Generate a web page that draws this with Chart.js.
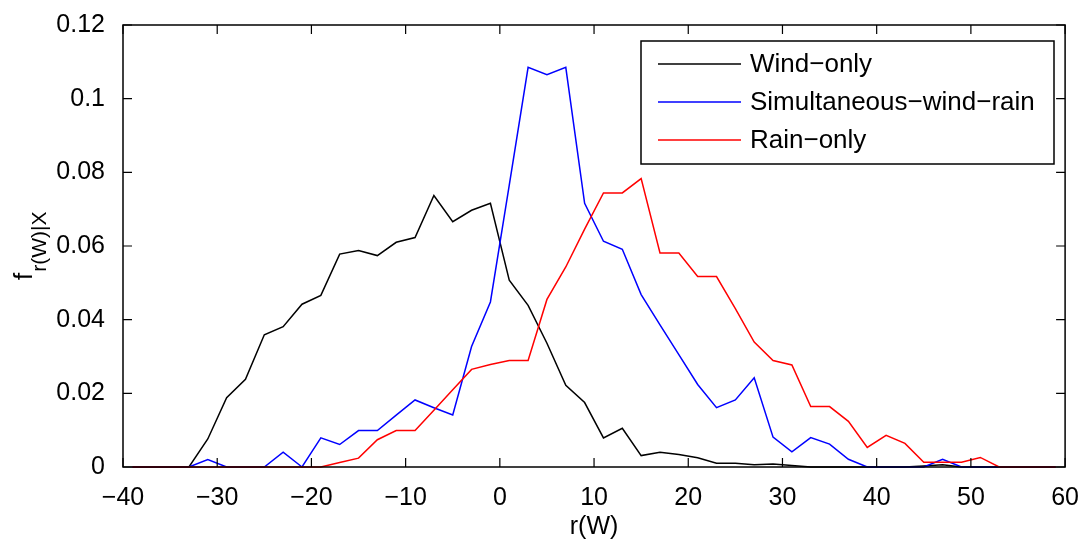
<!DOCTYPE html>
<html>
<head>
<meta charset="utf-8">
<script src="https://cdn.jsdelivr.net/npm/chart.js@4.4.1/dist/chart.umd.min.js"></script>
<style>
  html, body { margin: 0; padding: 0; background: #fff; }
  #wrap { width: 1087px; height: 542px; }
</style>
</head>
<body>
<div id="wrap"><canvas id="myChart" width="1087" height="542"></canvas></div>
<script>
// bin centres r(W)
const rW = [-39,-37,-35,-33,-31,-29,-27,-25,-23,-21,-19,-17,-15,-13,-11,-9,-7,-5,-3,-1,
            1,3,5,7,9,11,13,15,17,19,21,23,25,27,29,31,33,35,37,39,41,43,45,47,49,51,53,55,57,59];

const windOnly = [0,0,0,0,0.0076,0.0188,0.0238,0.0359,0.0381,0.0442,0.0466,0.0578,0.0588,0.0574,0.0610,0.0623,0.0737,0.0666,0.0697,0.0716,
                  0.0507,0.0439,0.0336,0.0222,0.0175,0.0079,0.0105,0.0031,0.0040,0.0034,0.0025,0.0010,0.0010,0.0006,0.0008,0.0004,0,0,0,0,0,0,0.0003,0.0006,0,0,0,0,0,0];

const simultaneous = [0,0,0,0,0.0020,0,0,0,0.0040,0,0.0079,0.0061,0.0099,0.0099,0.0141,0.0182,0.0161,0.0141,0.0327,0.0448,
                      0.0765,0.1085,0.1065,0.1085,0.0716,0.0613,0.0591,0.0468,0.0386,0.0305,0.0224,0.0161,0.0182,0.0242,0.0081,0.0041,0.0080,0.0062,0.0021,0,0,0,0,0.0021,0,0,0,0,0,0];

const rainOnly = [0,0,0,0,0,0,0,0,0,0,0,0.0012,0.0024,0.0074,0.0099,0.0099,0.0154,0.0210,0.0265,0.0278,
                  0.0289,0.0289,0.0455,0.0543,0.0646,0.0744,0.0744,0.0783,0.0581,0.0581,0.0517,0.0517,0.0430,0.0339,0.0289,0.0277,0.0164,0.0164,0.0124,0.0053,0.0086,0.0064,0.0013,0.0013,0.0013,0.0026,0,0,0,0];

const seriesNames = ['Wind\u2212only', 'Simultaneous\u2212wind\u2212rain', 'Rain\u2212only'];
const xTicks = [-40,-30,-20,-10,0,10,20,30,40,50,60];
const yTicks = [0,0.02,0.04,0.06,0.08,0.1,0.12];

const FONT = 'Liberation Sans, Arial, Helvetica, sans-serif';

const toPoints = (vals) => rW.map((x, i) => ({x: x, y: vals[i]}));

// box round the plot plus inward ticks on all four sides
const frameTicks = {
  id: 'frameTicks',
  afterDatasetsDraw(chart) {
    const {ctx, chartArea: a, scales} = chart;
    ctx.save();
    ctx.strokeStyle = '#000';
    ctx.lineWidth = 1.5;
    ctx.strokeRect(a.left, a.top, a.right - a.left, a.bottom - a.top);
    ctx.lineWidth = 1.2;
    ctx.beginPath();
    xTicks.forEach(v => {
      const px = scales.x.getPixelForValue(v);
      ctx.moveTo(px, a.bottom); ctx.lineTo(px, a.bottom - 9);
      ctx.moveTo(px, a.top); ctx.lineTo(px, a.top + 9);
    });
    yTicks.forEach(v => {
      const py = scales.y.getPixelForValue(v);
      ctx.moveTo(a.left, py); ctx.lineTo(a.left + 9, py);
      ctx.moveTo(a.right, py); ctx.lineTo(a.right - 9, py);
    });
    ctx.stroke();
    ctx.restore();
  },
  afterDraw(chart) {
    const {ctx} = chart;
    // y axis title f_{r(W)|X}
    ctx.save();
    ctx.fillStyle = '#000';
    ctx.translate(32, 280);
    ctx.rotate(-Math.PI / 2);
    ctx.textBaseline = 'alphabetic';
    ctx.textAlign = 'left';
    ctx.font = '26px ' + FONT;
    ctx.fillText('f', 0, 0);
    const fw = ctx.measureText('f').width;
    ctx.font = '21px ' + FONT;
    ctx.fillText('r(W)|X', fw + 1, 14);
    ctx.restore();

    // legend box
    const bx = 641, by = 41, bw = 413, bh = 123;
    ctx.save();
    ctx.fillStyle = '#fff';
    ctx.fillRect(bx, by, bw, bh);
    ctx.strokeStyle = '#000';
    ctx.lineWidth = 1.5;
    ctx.strokeRect(bx, by, bw, bh);
    const rows = [64, 102, 140];
    chart.data.datasets.forEach((ds, i) => {
      ctx.strokeStyle = ds.borderColor;
      ctx.lineWidth = 1.5;
      ctx.beginPath();
      ctx.moveTo(658, rows[i]); ctx.lineTo(741, rows[i]);
      ctx.stroke();
      ctx.fillStyle = '#000';
      ctx.font = '26px ' + FONT;
      ctx.textBaseline = 'middle';
      ctx.fillText(ds.label, 750, rows[i] + 1);
    });
    ctx.restore();
  }
};

const convasGraphic = () => {
  let ctx = document.getElementById('myChart').getContext('2d');
  const data = {
    datasets: [
      { label: seriesNames[0], data: toPoints(windOnly), borderColor: '#000000', order: 2 },
      { label: seriesNames[1], data: toPoints(simultaneous), borderColor: '#0000ff', order: 1 },
      { label: seriesNames[2], data: toPoints(rainOnly), borderColor: '#ff0000', order: 0 }
    ]
  };
  data.datasets.forEach(ds => {
    ds.borderWidth = 1.5;
    ds.pointRadius = 0;
    ds.tension = 0;
    ds.fill = false;
    ds.clip = 3;
  });
  let myChart = new Chart(ctx, {
    type: 'line',
    data: data,
    options: {
      responsive: false,
      animation: false,
      events: [],
      layout: { padding: { left: 0, right: 19, top: 20, bottom: 0 } },
      plugins: { legend: { display: false }, tooltip: { enabled: false } },
      scales: {
        x: {
          type: 'linear',
          min: -40, max: 60,
          afterFit: (s) => { s.height = 75; },
          afterBuildTicks: (s) => { s.ticks = xTicks.map(v => ({value: v})); },
          grid: { display: false },
          border: { display: false },
          ticks: {
            color: '#000',
            font: { family: FONT, size: 25 },
            padding: 8,
            maxRotation: 0,
            callback: (v) => String(v).replace('-', '\u2212')
          },
          title: {
            display: true, text: 'r(W)', color: '#000',
            font: { family: FONT, size: 25 },
            padding: { top: 0, bottom: 0 }
          }
        },
        y: {
          min: 0, max: 0.12,
          afterFit: (s) => { s.width = 123; },
          afterBuildTicks: (s) => { s.ticks = yTicks.map(v => ({value: v})); },
          grid: { display: false },
          border: { display: false },
          ticks: {
            color: '#000',
            font: { family: FONT, size: 25 },
            padding: 10,
            callback: (v) => String(+v.toFixed(2))
          }
        }
      }
    },
    plugins: [frameTicks]
  });
};

document.addEventListener('DOMContentLoaded', () => { convasGraphic(); });
</script>
</body>
</html>
